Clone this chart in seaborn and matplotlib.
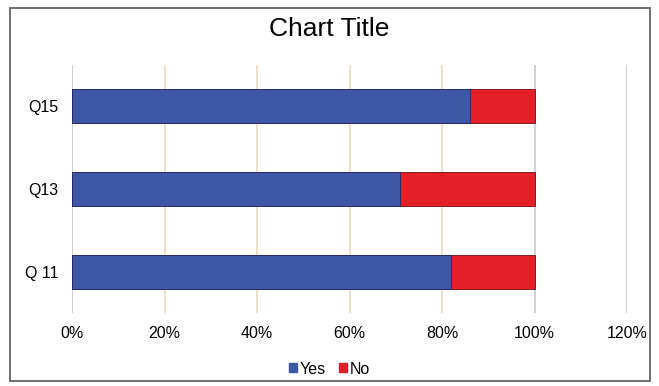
import matplotlib
matplotlib.use("Agg")
import matplotlib.pyplot as plt
import seaborn as sns
import pandas as pd
from matplotlib.patches import Patch

categories = ["Q15", "Q13", "Q 11"]
yes_values = [86, 71, 82]
no_values = [14, 29, 18]
x_ticks = [0, 20, 40, 60, 80, 100, 120]
x_tick_labels = ["0%", "20%", "40%", "60%", "80%", "100%", "120%"]

df = pd.DataFrame({"cat": categories, "yes": yes_values, "no": no_values})
df["total"] = df["yes"] + df["no"]

sns.set_style("white")
plt.rcParams["font.family"] = ["Liberation Sans", "DejaVu Sans"]
plt.rcParams["text.color"] = "black"
plt.rcParams["xtick.color"] = "black"
plt.rcParams["ytick.color"] = "black"

blue = "#3F55A6"
red = "#E41E26"

fig = plt.figure(figsize=(6.59, 3.86), dpi=100)
ax = fig.add_axes([72/659, 1-313/386, (627-72)/659, (313-65)/386])

sns.barplot(data=df, x="total", y="cat", orient="h", color=red, width=0.41,
            saturation=1, edgecolor="#6a1010", linewidth=0.6, ax=ax, zorder=3)
sns.barplot(data=df, x="yes", y="cat", orient="h", color=blue, width=0.41,
            saturation=1, edgecolor="#1e2a66", linewidth=0.6, ax=ax, zorder=4)

ax.set_xlim(0, 120)
ax.set_ylim(2.5, -0.5)
ax.set_xticks(x_ticks)
ax.set_xticklabels(x_tick_labels, fontsize=11.5)
ax.tick_params(axis="y", labelsize=11.5, length=0, pad=10)
ax.tick_params(axis="x", length=0, pad=9)
ax.set_xlabel("")
ax.set_ylabel("")
for s in ax.spines.values():
    s.set_visible(False)
ax.grid(False)
for i, t in enumerate(x_ticks):
    ax.axvline(t, color="#ecdcc4" if 0 < t < 100 else "#cccccc", lw=1.3, zorder=1)

fig.text(0.5, 1-29/386, "Chart Title", ha="center", va="center", fontsize=19)

handles = [Patch(facecolor=blue, edgecolor=blue, label="Yes"),
           Patch(facecolor=red, edgecolor=red, label="No")]
fig.legend(handles=handles, loc="center", bbox_to_anchor=(0.5, 1-369/386), ncol=2,
           frameon=False, fontsize=11.5, handlelength=0.5, handleheight=0.5,
           handletextpad=0.2, columnspacing=0.8)

border = plt.Rectangle((10/659, 1-381/386), (650-10)/659, (381-8)/386,
                       transform=fig.transFigure, fill=False, edgecolor="#707070", lw=1.4)
fig.add_artist(border)

fig.savefig("out.png", dpi=100)
